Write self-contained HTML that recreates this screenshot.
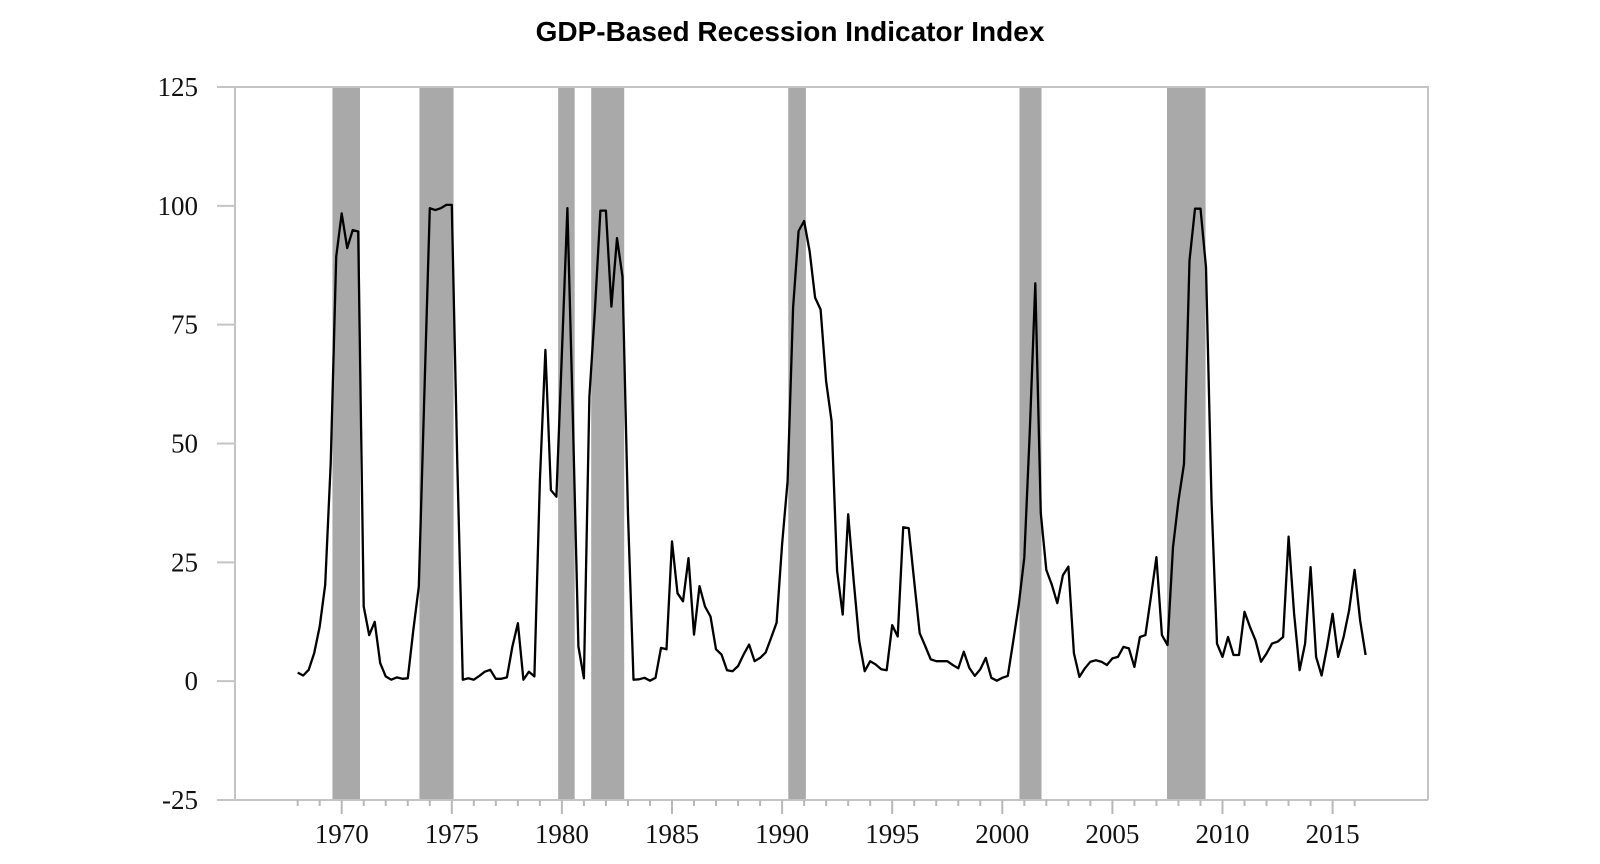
<!DOCTYPE html>
<html><head><meta charset="utf-8"><style>
html,body{margin:0;padding:0;background:#fff;}
svg{display:block;}
</style></head><body>
<svg id="chart" width="1600" height="864" xmlns="http://www.w3.org/2000/svg">
<text x="790" y="41" text-anchor="middle" font-family="Liberation Sans, sans-serif" font-weight="bold" font-size="28" fill="#000">GDP-Based Recession Indicator Index</text>
<g id="bands"></g>
<g id="axes"></g>
<path id="line" fill="none" stroke="#000" stroke-width="2.3" stroke-linejoin="round"></path>
</svg>
<script>
const startYear = 1968.0;
const stepYears = 0.25;
const values = [
1.8,1.2,2.4,5.9,11.5,20.3,45.8,89.3,98.4,91.1,94.9,94.6,
15.7,9.7,12.5,3.8,1.0,0.3,0.8,0.5,0.6,10.7,19.9,60,
99.5,99.1,99.5,100.2,100.2,45.8,0.3,0.6,0.3,1.1,2.0,2.4,
0.5,0.5,0.8,7.3,12.2,0.3,2.0,1.0,42.3,69.7,40.2,38.8,
69,99.5,55,7.3,0.6,59.9,78,99,99,78.8,93.2,85.1,
35,0.3,0.4,0.7,0.1,0.7,7.0,6.7,29.4,18.5,16.8,25.9,
9.8,20,15.7,13.6,6.7,5.6,2.3,2.1,3.2,5.6,7.7,4.2,
4.9,6.0,9.1,12.3,28.8,42.1,78.6,94.7,96.8,90.5,80.7,78.2,
63.1,54.7,23.2,14,35.1,21.1,8.5,2.1,4.2,3.5,2.5,2.3,
11.8,9.4,32.4,32.2,21,10.1,7.4,4.6,4.2,4.2,4.2,3.4,
2.7,6.2,2.8,1.1,2.5,4.9,0.7,0.1,0.7,1.1,8.5,16.2,
26,52.6,83.7,35.3,23.4,20.3,16.4,22.3,24.1,5.9,0.9,2.7,
4.1,4.4,4.1,3.4,4.8,5.1,7.2,6.9,3.0,9.3,9.7,17.7,
26.1,9.7,7.6,28.2,38,45.7,88.5,99.4,99.4,87.1,38,7.9,
5.1,9.3,5.5,5.5,14.6,11.4,8.6,4.1,5.8,7.9,8.3,9.3,
30.4,14.2,2.3,7.9,24,5.1,1.2,7.2,14.2,5.1,9.3,14.9,
23.4,12.8,5.5
];
const bandStarts = [1969.58,1973.53,1979.83,1981.33,1990.28,2000.78,2007.48];
const bandEnds   = [1970.83,1975.08,1980.58,1982.83,1991.08,2001.78,2009.23];
const yTicks = [125,100,75,50,25,0,-25];
const xMajor = [1970,1975,1980,1985,1990,1995,2000,2005,2010,2015];
const yMin = -25, yMax = 125;

const plotL = 235, plotR = 1428, plotT = 87, plotB = 800;
function xs(t){ return 341.7 + (t - 1970) * 22.02; }
function ys(v){ return plotB - (v - yMin) / (yMax - yMin) * (plotB - plotT); }
const NS = 'http://www.w3.org/2000/svg';
function mk(tag, attrs, parent){ const e = document.createElementNS(NS, tag); for (const k in attrs) e.setAttribute(k, attrs[k]); parent.appendChild(e); return e; }

const bands = document.getElementById('bands');
bandStarts.forEach((s, i) => {
  const r = mk('rect', {x: xs(s), y: plotT, width: xs(bandEnds[i]) - xs(s), height: plotB - plotT, fill: '#a9a9a9'}, bands);
  
  
});

const axes = document.getElementById('axes');
const frame = mk('path', {d: `M${plotL},${plotT} H${plotR} V${plotB} M${plotL},${plotT} V${plotB} M217,${plotB} H${plotR}`, stroke: '#c4c4c4', 'stroke-width': 2, fill: 'none'}, axes);


yTicks.forEach(v => {
  const y = ys(v);
  const t = mk('line', {x1: 217, x2: plotL, y1: y, y2: y, stroke: '#c4c4c4', 'stroke-width': 2}, axes);
  
  
  const l = mk('text', {x: 198, y: y + 9, 'text-anchor': 'end', 'font-family': 'Liberation Serif, serif', 'font-size': 27, fill: '#111'}, axes);
  l.textContent = String(v);
  
  
});
for (let yr = 1968; yr <= 2016; yr++) {
  const major = xMajor.indexOf(yr) >= 0;
  const x = xs(yr);
  const t = mk('line', {x1: x, x2: x, y1: plotB, y2: plotB + (major ? 14 : 6), stroke: '#b8b8b8', 'stroke-width': 2}, axes);
  
  
}
xMajor.forEach(yr => {
  const l = mk('text', {x: xs(yr), y: 843, 'text-anchor': 'middle', 'font-family': 'Liberation Serif, serif', 'font-size': 27, fill: '#111'}, axes);
  l.textContent = String(yr);
  
  
});

let d = '';
values.forEach((v, i) => { d += (i ? 'L' : 'M') + xs(startYear + i * stepYears).toFixed(1) + ',' + ys(v).toFixed(1); });
document.getElementById('line').setAttribute('d', d);
</script>
</body></html>
